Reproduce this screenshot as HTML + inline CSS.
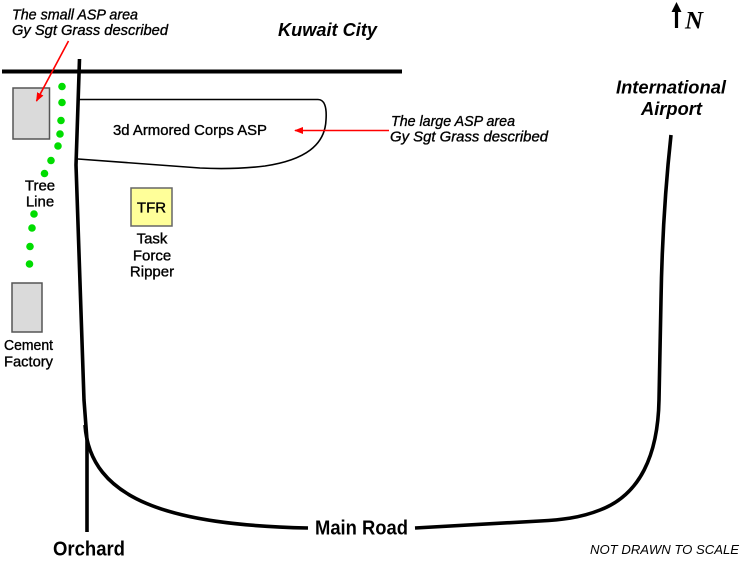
<!DOCTYPE html>
<html>
<head>
<meta charset="utf-8">
<style>
  html, body { margin:0; padding:0; background:#fff; }
  body { width:743px; height:562px; overflow:hidden; }
  svg { display:block; }
  text { font-family: "Liberation Sans", Arial, sans-serif; fill:#000; }
  .it { font-style: italic; }
  .b { font-weight: bold; }
  .h { stroke:#000; stroke-width:0.35; }
</style>
</head>
<body>
<svg width="743" height="562" viewBox="0 0 743 562" xmlns="http://www.w3.org/2000/svg">
  <defs>
    <marker id="rh" viewBox="0 0 10 10" refX="9" refY="5" markerWidth="9" markerHeight="9" markerUnits="userSpaceOnUse" orient="auto">
      <path d="M0,1 L10,5 L0,9 Z" fill="#ff0000"/>
    </marker>
  </defs>

  <!-- Top road (Kuwait City) -->
  <line x1="2" y1="71.5" x2="402" y2="71.5" stroke="#000" stroke-width="4"/>

  <!-- Left vertical road -->
  <polyline points="79.5,59 76,165 84,400 87,440 87,532" fill="none" stroke="#000" stroke-width="3.6" stroke-linejoin="round"/>

  <!-- Left curve into Main Road -->
  <path d="M85,425 C90,500 170,525 308,528" fill="none" stroke="#000" stroke-width="3.6"/>

  <!-- Right road to airport -->
  <path d="M671,135 C665,190 662,240 661,300 L659,400 C658,455 640,495 600,510 C580,518 560,520 540,521 L415,528" fill="none" stroke="#000" stroke-width="3.6"/>

  <!-- ASP shape -->
  <path d="M78,99.5 L318,99.5 C324,99.5 327,106 326,120 C325,145 305,160 265,166 C240,169 220,169 200,168 L78,159" fill="none" stroke="#000" stroke-width="1.6"/>

  <!-- small ASP box -->
  <rect x="13" y="88" width="36.5" height="51" fill="#dadada" stroke="#555" stroke-width="1.5"/>
  <!-- cement factory box -->
  <rect x="12" y="283" width="30" height="49" fill="#dadada" stroke="#555" stroke-width="1.5"/>

  <!-- TFR box -->
  <rect x="131" y="188" width="41" height="38" fill="#ffff99" stroke="#666" stroke-width="1.5"/>
  <text class="h" x="151.5" y="212.5" font-size="15" text-anchor="middle">TFR</text>

  <!-- green tree line dots -->
  <g fill="#00dd00">
    <circle cx="62" cy="86.5" r="3.8"/>
    <circle cx="62" cy="102.5" r="3.8"/>
    <circle cx="61" cy="120.5" r="3.8"/>
    <circle cx="60" cy="134" r="3.8"/>
    <circle cx="58" cy="146" r="3.8"/>
    <circle cx="51" cy="160.5" r="3.8"/>
    <circle cx="44.5" cy="173.5" r="3.8"/>
    <circle cx="34" cy="214" r="3.8"/>
    <circle cx="32" cy="228" r="3.8"/>
    <circle cx="30" cy="246.5" r="3.8"/>
    <circle cx="29.5" cy="264" r="3.8"/>
  </g>

  <!-- red arrows -->
  <line x1="68.5" y1="41" x2="36.5" y2="101" stroke="#ff0000" stroke-width="1.6" marker-end="url(#rh)"/>
  <line x1="389" y1="130.5" x2="295" y2="130.5" stroke="#ff0000" stroke-width="1.6" marker-end="url(#rh)"/>

  <!-- North arrow -->
  <line x1="676.5" y1="10" x2="676.5" y2="28" stroke="#000" stroke-width="3.2"/>
  <path d="M676.5,2 L681.5,12 L671.5,12 Z" fill="#000"/>
  <text x="685" y="28.5" font-size="25" font-style="italic" font-weight="bold" style="font-family:'Liberation Serif','Times New Roman',serif">N</text>

  <!-- Labels -->
  <text class="it h" x="12" y="19.5" font-size="15" textLength="126" lengthAdjust="spacingAndGlyphs">The small ASP area</text>
  <text class="it h" x="12" y="35" font-size="15" textLength="156" lengthAdjust="spacingAndGlyphs">Gy Sgt Grass described</text>

  <text class="it b" x="278" y="36" font-size="18" textLength="99" lengthAdjust="spacingAndGlyphs">Kuwait City</text>

  <text class="it b" x="616" y="93.5" font-size="18.5" textLength="110" lengthAdjust="spacingAndGlyphs">International</text>
  <text class="it b" x="641" y="115" font-size="18.5" textLength="61" lengthAdjust="spacingAndGlyphs">Airport</text>

  <text class="h" x="113" y="135" font-size="15" textLength="154" lengthAdjust="spacingAndGlyphs">3d Armored Corps ASP</text>

  <text class="it h" x="391" y="126" font-size="15" textLength="124" lengthAdjust="spacingAndGlyphs">The large ASP area</text>
  <text class="it h" x="390" y="141.5" font-size="15" textLength="158" lengthAdjust="spacingAndGlyphs">Gy Sgt Grass described</text>

  <text class="h" x="40" y="190.5" font-size="15" text-anchor="middle">Tree</text>
  <text class="h" x="40" y="206.5" font-size="15" text-anchor="middle">Line</text>

  <text class="h" x="152" y="243.5" font-size="15" text-anchor="middle">Task</text>
  <text class="h" x="152" y="260.5" font-size="15" text-anchor="middle">Force</text>
  <text class="h" x="152" y="276.5" font-size="15" text-anchor="middle">Ripper</text>

  <text class="h" x="4" y="350" font-size="15" textLength="49" lengthAdjust="spacingAndGlyphs">Cement</text>
  <text class="h" x="4" y="366.5" font-size="15" textLength="49" lengthAdjust="spacingAndGlyphs">Factory</text>

  <text class="b" x="315" y="534.5" font-size="20.5" textLength="93" lengthAdjust="spacingAndGlyphs">Main Road</text>
  <text class="b" x="53" y="555.5" font-size="20" textLength="72" lengthAdjust="spacingAndGlyphs">Orchard</text>

  <text class="it" x="590" y="554" font-size="12.5" textLength="149" lengthAdjust="spacingAndGlyphs">NOT DRAWN TO SCALE</text>
</svg>
</body>
</html>
